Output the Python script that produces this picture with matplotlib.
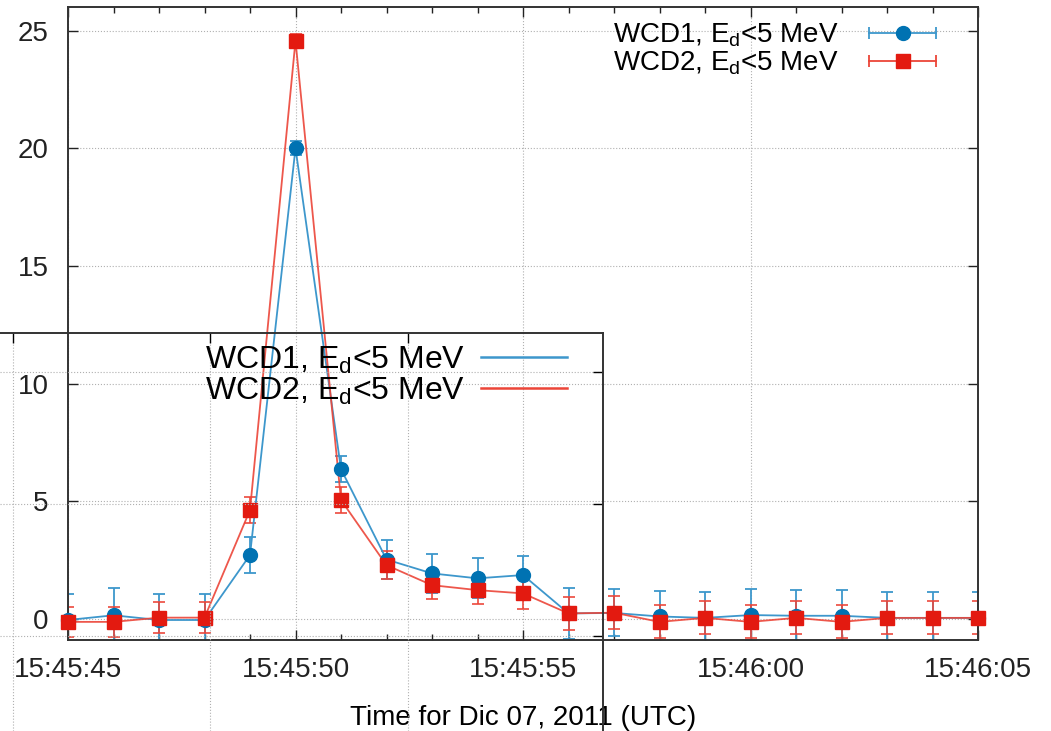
import matplotlib.pyplot as plt
import matplotlib.dates as mdates
from matplotlib.lines import Line2D
from matplotlib.legend_handler import HandlerLine2D
from datetime import datetime, timedelta

plt.rcParams['font.family'] = ['Liberation Sans', 'DejaVu Sans']
plt.rcParams['mathtext.fontset'] = 'custom'
plt.rcParams['mathtext.rm'] = 'Liberation Sans'

# one point per second, 15:45:45 .. 15:46:05 (Dec 07, 2011)
start = datetime(2011, 12, 7, 15, 45, 45)
times = [start + timedelta(seconds=i) for i in range(21)]

wcd1 = [-0.05, 0.15, -0.05, -0.05, 2.71, 20.0, 6.36, 2.52, 1.93, 1.72, 1.86,
        0.23, 0.25, 0.10, 0.04, 0.16, 0.13, 0.13, 0.04, 0.04, 0.04]
wcd1_err = [1.1, 1.15, 1.1, 1.1, 0.75, 0.3, 0.55, 0.83, 0.82, 0.85, 0.81,
            1.1, 1.0, 1.1, 1.1, 1.1, 1.1, 1.1, 1.1, 1.1, 1.1]
wcd2 = [-0.13, -0.13, 0.05, 0.05, 4.62, 24.57, 5.05, 2.28, 1.43, 1.22, 1.08,
        0.23, 0.26, -0.13, 0.04, -0.13, 0.04, -0.13, 0.04, 0.04, 0.04]
wcd2_err = [0.65, 0.65, 0.67, 0.67, 0.55, 0.3, 0.55, 0.6, 0.6, 0.6, 0.68,
            0.7, 0.7, 0.7, 0.7, 0.7, 0.7, 0.7, 0.7, 0.7, 0.7]

labels = ['WCD1, E$_\\mathrm{d}$<5 MeV', 'WCD2, E$_\\mathrm{d}$<5 MeV']
blue, blue_l = '#0072b2', '#3d97cc'
red, red_l = '#e31a10', '#ec4538'

fig = plt.figure(figsize=(10.51, 7.31), dpi=100)
ax = fig.add_axes([68 / 1051, 91 / 731, 910 / 1051, 633 / 731])

ax.errorbar(times, wcd1, yerr=wcd1_err, fmt='-', color=blue_l, lw=1.3,
            elinewidth=1.3, capsize=4, capthick=1.3)
ax.plot(times, wcd1, 'o', color=blue, ms=10, clip_on=False, zorder=3)
ax.errorbar(times, wcd2, yerr=wcd2_err, fmt='-', color=red_l, lw=1.3,
            elinewidth=1.3, capsize=4, capthick=1.3, alpha=0.9)
ax.plot(times, wcd2, 's', color=red, ms=10, clip_on=False, zorder=4)

ax.set_xlim(times[0], times[-1])
ax.set_ylim(-0.9, 26)
ax.set_yticks([0, 5, 10, 15, 20, 25])
ax.xaxis.set_major_locator(mdates.SecondLocator(bysecond=range(0, 60, 5)))
ax.xaxis.set_minor_locator(mdates.SecondLocator())
ax.xaxis.set_major_formatter(mdates.DateFormatter('%H:%M:%S'))
ax.tick_params(which='both', direction='in', top=True, right=True,
               labelsize=20, width=1, colors='#222222')
ax.tick_params(which='major', length=7)
ax.tick_params(which='minor', length=4)
ax.tick_params(axis='x', which='major', pad=12)
ax.tick_params(axis='y', pad=14)
ax.grid(True, which='major', ls=':', color='#b0b0b0', lw=0.8)
for s in ax.spines.values():
    s.set_linewidth(1.4)
    s.set_color('#333333')
ax.set_xlabel('Time for Dic 07, 2011 (UTC)', fontsize=20, labelpad=16)

cap1 = Line2D([], [], color=blue_l, marker='|', ms=9, mew=1.3, lw=1.3)
dot1 = Line2D([], [], color=blue, marker='o', ms=10, ls='none')
cap2 = Line2D([], [], color=red_l, marker='|', ms=9, mew=1.3, lw=1.3)
sq2 = Line2D([], [], color=red, marker='s', ms=10, ls='none')
ax.legend([(cap1, dot1), (cap2, sq2)], labels, loc='upper right',
          bbox_to_anchor=(0.963, 0.977), frameon=False, markerfirst=False,
          fontsize=20, handlelength=3.0, handletextpad=0.8, labelspacing=0,
          borderpad=0, borderaxespad=0,
          handler_map={cap1: HandlerLine2D(numpoints=2),
                       cap2: HandlerLine2D(numpoints=2)})

# transparent overlay frame in the lower left with its own key
ov = fig.add_axes([0, 0, 603 / 1051, 398 / 731], facecolor='none')
ov.set_xlim(-0.33, 14.94)
ov.set_ylim(-3.6, 11.48)
ov.set_xticks([0, 5, 10])
ov.set_yticks([0, 5, 10])
ov.tick_params(direction='in', top=True, bottom=False, left=False, right=True,
               labelbottom=False, labelleft=False, length=7, width=1)
ov.grid(True, ls=':', color='#b0b0b0', lw=0.8)
ov.spines['left'].set_visible(False)
ov.spines['bottom'].set_visible(False)
for side in ['top', 'right']:
    ov.spines[side].set_linewidth(1.4)
    ov.spines[side].set_color('#333333')
ov.legend([Line2D([], [], color=blue_l, lw=1.8), Line2D([], [], color=red_l, lw=1.8)],
          labels, loc='upper right', bbox_to_anchor=(0.94, 0.972),
          frameon=False, markerfirst=False, fontsize=23, handlelength=2.7,
          handletextpad=0.5, labelspacing=0, borderpad=0, borderaxespad=0)

fig.savefig('out.png', dpi=100)
